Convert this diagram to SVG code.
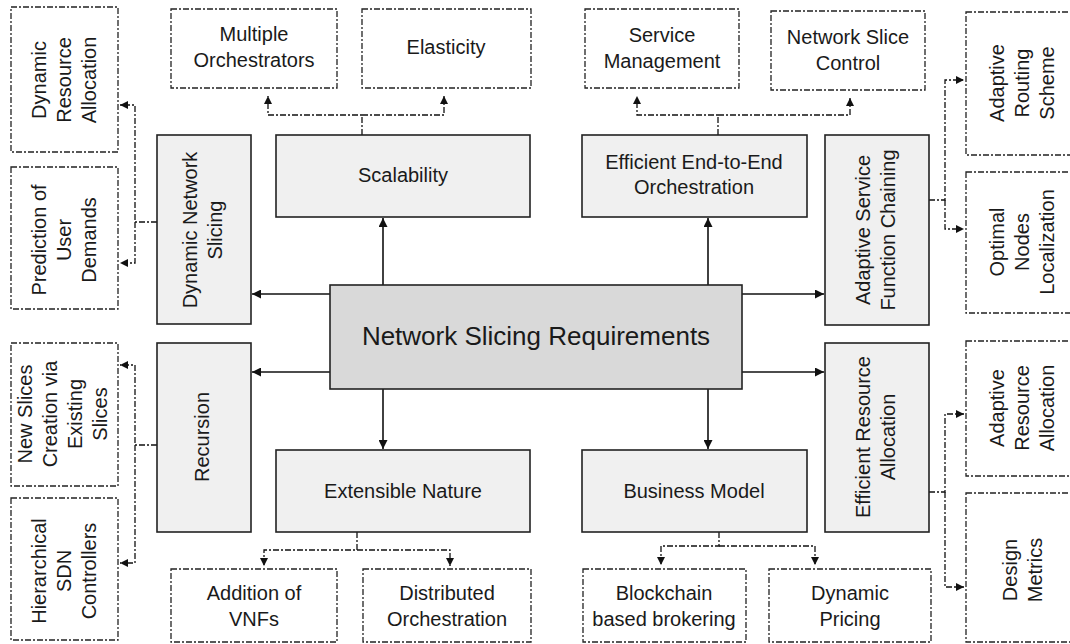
<svg xmlns="http://www.w3.org/2000/svg" width="1070" height="644" viewBox="0 0 1070 644">
<style>
  .main { fill: #d9d9d9; stroke: #222; stroke-width: 1.6; }
  .req { fill: #f0f0f0; stroke: #222; stroke-width: 1.6; }
  .sub { fill: #ffffff; stroke: #222; stroke-width: 1.3; stroke-dasharray: 6 2 2 2; }
  .solid { fill: none; stroke: #111; stroke-width: 1.6; }
  .dash { fill: none; stroke: #111; stroke-width: 1.3; stroke-dasharray: 6 2 2 2; }
  text { font-family: "Liberation Sans", Arial, sans-serif; font-size: 20px; fill: #1a1a1a; text-anchor: middle; }
  .big { font-size: 26px; }
</style>
<defs>
  <marker id="ah" viewBox="0 0 10 10" refX="10" refY="5" markerWidth="11" markerHeight="9" orient="auto" markerUnits="userSpaceOnUse">
    <path d="M0,0 L10,5 L0,10 z" fill="#111"/>
  </marker>
  <marker id="ahs" viewBox="0 0 10 10" refX="10" refY="5" markerWidth="9" markerHeight="8" orient="auto" markerUnits="userSpaceOnUse">
    <path d="M0,0 L10,5 L0,10 z" fill="#111"/>
  </marker>
</defs>
<rect width="1070" height="644" fill="#ffffff"/>

<g id="connectors">
  <path class="solid" d="M383,285 V218" marker-end="url(#ah)"/>
  <path class="solid" d="M708,285 V218" marker-end="url(#ah)"/>
  <path class="solid" d="M330,294 H252" marker-end="url(#ah)"/>
  <path class="solid" d="M330,372 H252" marker-end="url(#ah)"/>
  <path class="solid" d="M742,294 H824" marker-end="url(#ah)"/>
  <path class="solid" d="M742,372 H824" marker-end="url(#ah)"/>
  <path class="solid" d="M383,389 V449" marker-end="url(#ah)"/>
  <path class="solid" d="M708,389 V449" marker-end="url(#ah)"/>

  <path class="dash" d="M362,135 V115 H268 V96" marker-end="url(#ahs)"/>
  <path class="dash" d="M362,115 H444 V96" marker-end="url(#ahs)"/>
  <path class="dash" d="M718,135 V115 H637 V96" marker-end="url(#ahs)"/>
  <path class="dash" d="M718,115 H850 V98" marker-end="url(#ahs)"/>

  <path class="dash" d="M157,222 H135 V105 H120" marker-end="url(#ahs)"/>
  <path class="dash" d="M135,222 V263 H120" marker-end="url(#ahs)"/>
  <path class="dash" d="M157,445 H135 V365 H120" marker-end="url(#ahs)"/>
  <path class="dash" d="M135,445 V563 H120" marker-end="url(#ahs)"/>

  <path class="dash" d="M929,200 H945 V80 H964" marker-end="url(#ahs)"/>
  <path class="dash" d="M945,200 V229 H964" marker-end="url(#ahs)"/>
  <path class="dash" d="M929,492 H945 V414 H964" marker-end="url(#ahs)"/>
  <path class="dash" d="M945,492 V587 H964" marker-end="url(#ahs)"/>

  <path class="dash" d="M357,532 V550 H264 V566" marker-end="url(#ahs)"/>
  <path class="dash" d="M357,550 H450 V566" marker-end="url(#ahs)"/>
  <path class="dash" d="M719,532 V546 H661 V565" marker-end="url(#ahs)"/>
  <path class="dash" d="M719,546 H815 V565" marker-end="url(#ahs)"/>
</g>

<g id="center">
  <rect class="main" x="330" y="285" width="412" height="104"/>
  <text class="big" x="536" y="345">Network Slicing Requirements</text>
</g>

<g id="scalability">
  <rect class="req" x="276" y="135" width="254" height="82"/>
  <text x="403" y="182">Scalability</text>
</g>
<g id="e2e">
  <rect class="req" x="582" y="135" width="225" height="82"/>
  <text x="694" y="169">Efficient End-to-End</text>
  <text x="694" y="194">Orchestration</text>
</g>
<g id="dns">
  <rect class="req" x="157" y="135" width="94" height="189"/>
  <text transform="translate(197,230) rotate(-90)"><tspan x="0" y="0">Dynamic Network</tspan><tspan x="0" y="25">Slicing</tspan></text>
</g>
<g id="recursion">
  <rect class="req" x="157" y="343" width="94" height="189"/>
  <text transform="translate(209,437) rotate(-90)">Recursion</text>
</g>
<g id="asfc">
  <rect class="req" x="825" y="135" width="104" height="190"/>
  <text transform="translate(870,230) rotate(-90)"><tspan x="0" y="0">Adaptive Service</tspan><tspan x="0" y="25">Function Chaining</tspan></text>
</g>
<g id="era">
  <rect class="req" x="825" y="343" width="104" height="189"/>
  <text transform="translate(870,437) rotate(-90)"><tspan x="0" y="0">Efficient Resource</tspan><tspan x="0" y="25">Allocation</tspan></text>
</g>
<g id="extensible">
  <rect class="req" x="276" y="450" width="254" height="82"/>
  <text x="403" y="498">Extensible Nature</text>
</g>
<g id="business">
  <rect class="req" x="582" y="450" width="225" height="82"/>
  <text x="694" y="498">Business Model</text>
</g>

<g id="multiple-orchestrators">
  <rect class="sub" x="171" y="9" width="166" height="79"/>
  <text x="254" y="41">Multiple</text>
  <text x="254" y="67">Orchestrators</text>
</g>
<g id="elasticity">
  <rect class="sub" x="362" y="9" width="169" height="79"/>
  <text x="446" y="54">Elasticity</text>
</g>
<g id="service-management">
  <rect class="sub" x="585" y="9" width="154" height="79"/>
  <text x="662" y="42">Service</text>
  <text x="662" y="68">Management</text>
</g>
<g id="network-slice-control">
  <rect class="sub" x="771" y="11" width="154" height="79"/>
  <text x="848" y="44">Network Slice</text>
  <text x="848" y="70">Control</text>
</g>

<g id="dynamic-resource-allocation">
  <rect class="sub" x="11" y="7" width="107" height="145"/>
  <text transform="translate(46,80) rotate(-90)"><tspan x="0" y="0">Dynamic</tspan><tspan x="0" y="25">Resource</tspan><tspan x="0" y="50">Allocation</tspan></text>
</g>
<g id="prediction">
  <rect class="sub" x="11" y="167" width="107" height="142"/>
  <text transform="translate(46,240) rotate(-90)"><tspan x="0" y="0">Prediction of</tspan><tspan x="0" y="25">User</tspan><tspan x="0" y="50">Demands</tspan></text>
</g>
<g id="new-slices">
  <rect class="sub" x="11" y="343" width="107" height="143"/>
  <text transform="translate(32,414) rotate(-90)"><tspan x="0" y="0">New Slices</tspan><tspan x="0" y="25">Creation via</tspan><tspan x="0" y="50">Existing</tspan><tspan x="0" y="75">Slices</tspan></text>
</g>
<g id="hierarchical">
  <rect class="sub" x="11" y="498" width="107" height="142"/>
  <text transform="translate(46,571) rotate(-90)"><tspan x="0" y="0">Hierarchical</tspan><tspan x="0" y="25">SDN</tspan><tspan x="0" y="50">Controllers</tspan></text>
</g>

<g id="adaptive-routing">
  <rect class="sub" x="966" y="12" width="120" height="143"/>
  <text transform="translate(1004,83) rotate(-90)"><tspan x="0" y="0">Adaptive</tspan><tspan x="0" y="25">Routing</tspan><tspan x="0" y="50">Scheme</tspan></text>
</g>
<g id="optimal-nodes">
  <rect class="sub" x="966" y="172" width="120" height="141"/>
  <text transform="translate(1004,242) rotate(-90)"><tspan x="0" y="0">Optimal</tspan><tspan x="0" y="25">Nodes</tspan><tspan x="0" y="50">Localization</tspan></text>
</g>
<g id="adaptive-resource">
  <rect class="sub" x="966" y="341" width="120" height="135"/>
  <text transform="translate(1004,408) rotate(-90)"><tspan x="0" y="0">Adaptive</tspan><tspan x="0" y="25">Resource</tspan><tspan x="0" y="50">Allocation</tspan></text>
</g>
<g id="design-metrics">
  <rect class="sub" x="966" y="493" width="120" height="149"/>
  <text transform="translate(1017,570) rotate(-90)"><tspan x="0" y="0">Design</tspan><tspan x="0" y="25">Metrics</tspan></text>
</g>

<g id="addition-vnfs">
  <rect class="sub" x="171" y="569" width="166" height="73"/>
  <text x="254" y="600">Addition of</text>
  <text x="254" y="626">VNFs</text>
</g>
<g id="distributed-orchestration">
  <rect class="sub" x="363" y="569" width="168" height="73"/>
  <text x="447" y="600">Distributed</text>
  <text x="447" y="626">Orchestration</text>
</g>
<g id="blockchain">
  <rect class="sub" x="583" y="569" width="163" height="73"/>
  <text x="664" y="600">Blockchain</text>
  <text x="664" y="626">based brokering</text>
</g>
<g id="dynamic-pricing">
  <rect class="sub" x="769" y="569" width="162" height="73"/>
  <text x="850" y="600">Dynamic</text>
  <text x="850" y="626">Pricing</text>
</g>
</svg>
